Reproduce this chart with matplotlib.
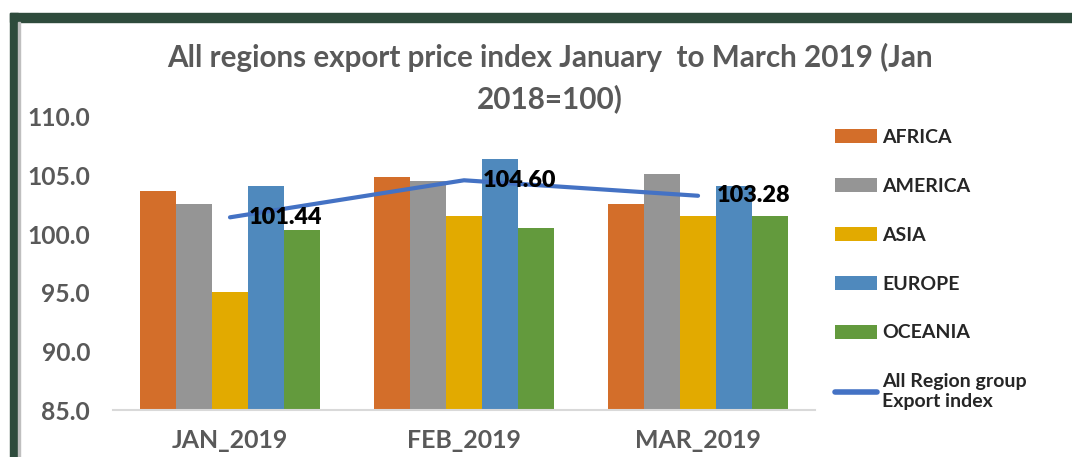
import numpy as np
import matplotlib.pyplot as plt
from matplotlib.patches import Rectangle

months = ["JAN_2019", "FEB_2019", "MAR_2019"]
regions = ["AFRICA", "AMERICA", "ASIA", "EUROPE", "OCEANIA"]
africa = [103.7, 104.85, 102.55]
america = [102.55, 104.5, 105.1]
asia = [95.1, 101.55, 101.55]
europe = [104.1, 106.4, 104.1]
oceania = [100.4, 100.55, 101.55]
all_regions = [101.44, 104.60, 103.28]

colors = ["#D36E2A", "#959595", "#E2AA00", "#4F89BD", "#639A3D"]
series = [africa, america, asia, europe, oceania]

plt.rcParams['font.family'] = ['Lato', 'DejaVu Sans']

fig = plt.figure(figsize=(10.72, 4.57), dpi=100)
ax = fig.add_axes([0.1054, 0.1028, 0.6549, 0.6412])

x = np.arange(len(months))
w = 0.154
handles = []
for i, (vals, name) in enumerate(zip(series, regions)):
    handles.append(ax.bar(x + (i - 2) * w, vals, w, color=colors[i], label=name))

line, = ax.plot(x, all_regions, color="#4472C4", lw=3, solid_capstyle='round',
                label="All Region group\nExport index")
handles.append(line)
for xi, v in zip(x, all_regions):
    ax.text(xi + 0.08, v, f"{v:.2f}", ha='left', va='center',
            fontsize=16.8, fontweight='heavy', color='black')

ax.set_ylim(85, 110)
ax.set_xlim(-0.5, 2.5)
ax.set_yticks(np.arange(85, 110.1, 5))
ax.set_yticklabels([f"{t:.1f}" for t in np.arange(85, 110.1, 5)])
ax.set_xticks(x)
ax.set_xticklabels(months)
ax.tick_params(axis='both', length=0, labelcolor="#595959")
ax.tick_params(axis='x', pad=14, labelsize=17.9)
ax.tick_params(axis='y', pad=16.5, labelsize=17.7)
for lab in ax.get_xticklabels() + ax.get_yticklabels():
    lab.set_fontweight('bold')
for s in ['top', 'right', 'left']:
    ax.spines[s].set_visible(False)
ax.spines['bottom'].set_color("#D9D9D9")
ax.spines['bottom'].set_linewidth(1.5)

leg = fig.legend(handles=handles, loc='upper left', bbox_to_anchor=(0.772, 0.735),
                 frameon=False, fontsize=14, handlelength=2.15, handleheight=0.75,
                 labelspacing=1.64, handletextpad=0.25, borderaxespad=0)
for t in leg.get_texts():
    t.set_fontweight('bold')
    t.set_color("#262626")
    t.set_multialignment('left')
leg.legend_handles[-1].set_linewidth(4)

title_kw = dict(ha='center', va='center', fontsize=21.3, fontweight='bold', color="#595959")
fig.text(0.513, 0.875, "All regions export price index January  to March 2019 (Jan", **title_kw)
fig.text(0.513, 0.785, "2018=100)", **title_kw)

# dark frame at top and left
green = "#2E4B3C"
fig.patches.append(Rectangle((10 / 1072, 0), 8 / 1072, 1 - 13 / 457,
                             transform=fig.transFigure, color=green, zorder=5))
fig.patches.append(Rectangle((10 / 1072, 1 - 22 / 457), 1, 9 / 457,
                             transform=fig.transFigure, color=green, zorder=5))
fig.patches.append(Rectangle((18 / 1072, 0), 1.5 / 1072, 1 - 22 / 457,
                             transform=fig.transFigure, color="#BFBFBF", zorder=5))

fig.savefig("out.png", dpi=100)
